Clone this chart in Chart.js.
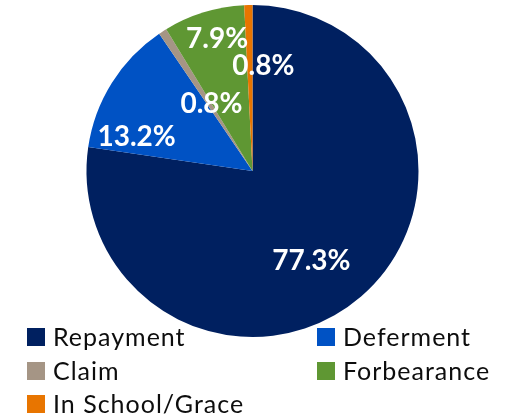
<!DOCTYPE html>
<html lang="en">
<head>
    <meta charset="UTF-8">
    <title>Loan Status Breakdown</title>
    <script src="https://cdn.jsdelivr.net/npm/chart.js"></script>
    <style>
        body {
            margin: 0;
            padding: 0;
            background-color: #ffffff;
            font-family: 'Lato', 'Open Sans', sans-serif;
        }
        #wrap {
            position: relative;
            width: 505px;
            height: 417px;
        }
        #legend {
            position: absolute;
            left: 0;
            top: 0;
            width: 505px;
            height: 417px;
            pointer-events: none;
        }
        .item {
            position: absolute;
            height: 18px;
            display: flex;
            align-items: center;
            white-space: nowrap;
        }
        .item span.box {
            width: 18px;
            height: 18px;
            margin-right: 8px;
            flex: none;
        }
        .item span.txt {
            font-size: 25px;
            letter-spacing: 1px;
            color: #0d0d0d;
            position: relative;
            top: -1px;
        }
    </style>
</head>
<body>
    <div id="wrap">
        <canvas id="pieChart" width="505" height="417"></canvas>
        <div id="legend"></div>
    </div>

    <script>
        const categories = ['Repayment', 'Deferment', 'Claim', 'Forbearance', 'In School/Grace'];
        const shares = [77.3, 13.2, 0.8, 7.9, 0.8];
        const sliceColors = ['#002060', '#0052c4', '#a59585', '#5f9733', '#e87500'];

        // where each percent label sits: angle nudge (deg) and fraction of radius
        const labelSpots = [[7.2, 0.64], [-15.1, 0.73], [1.8, 0.48], [2.2, 0.83], [7.3, 0.64]];

        const pctLabels = {
            id: 'pctLabels',
            afterDatasetsDraw(chart) {
                const ctx = chart.ctx;
                const meta = chart.getDatasetMeta(0);
                const size = 28;
                ctx.save();
                ctx.fillStyle = '#ffffff';
                ctx.font = 'bold ' + size + 'px Lato, "Open Sans", sans-serif';
                ctx.textAlign = 'center';
                ctx.textBaseline = 'alphabetic';
                meta.data.forEach((arc, i) => {
                    const p = arc.getProps(['x', 'y', 'startAngle', 'endAngle', 'outerRadius']);
                    const mid = (p.startAngle + p.endAngle) / 2 + labelSpots[i][0] * Math.PI / 180;
                    const r = p.outerRadius * labelSpots[i][1];
                    ctx.fillText(shares[i].toFixed(1) + '%', p.x + Math.cos(mid) * r, p.y + Math.sin(mid) * r + size * 0.36);
                });
                ctx.restore();
            }
        };

        new Chart(document.getElementById('pieChart'), {
            type: 'pie',
            data: {
                labels: categories,
                datasets: [{
                    data: shares,
                    backgroundColor: sliceColors,
                    borderWidth: 0
                }]
            },
            options: {
                responsive: false,
                animation: false,
                layout: {
                    padding: { top: 5, bottom: 80, left: 0, right: 0 }
                },
                plugins: {
                    legend: { display: false },
                    tooltip: { enabled: false }
                }
            },
            plugins: [pctLabels]
        });

        // two-column legend under the pie
        const legend = document.getElementById('legend');
        categories.forEach((name, i) => {
            const div = document.createElement('div');
            div.className = 'item';
            div.style.left = (i % 2 === 0 ? 27 : 317) + 'px';
            div.style.top = (328 + Math.floor(i / 2) * 33.7) + 'px';
            div.innerHTML = '<span class="box" style="background:' + sliceColors[i] + '"></span><span class="txt">' + name + '</span>';
            legend.appendChild(div);
        });
    </script>
</body>
</html>
